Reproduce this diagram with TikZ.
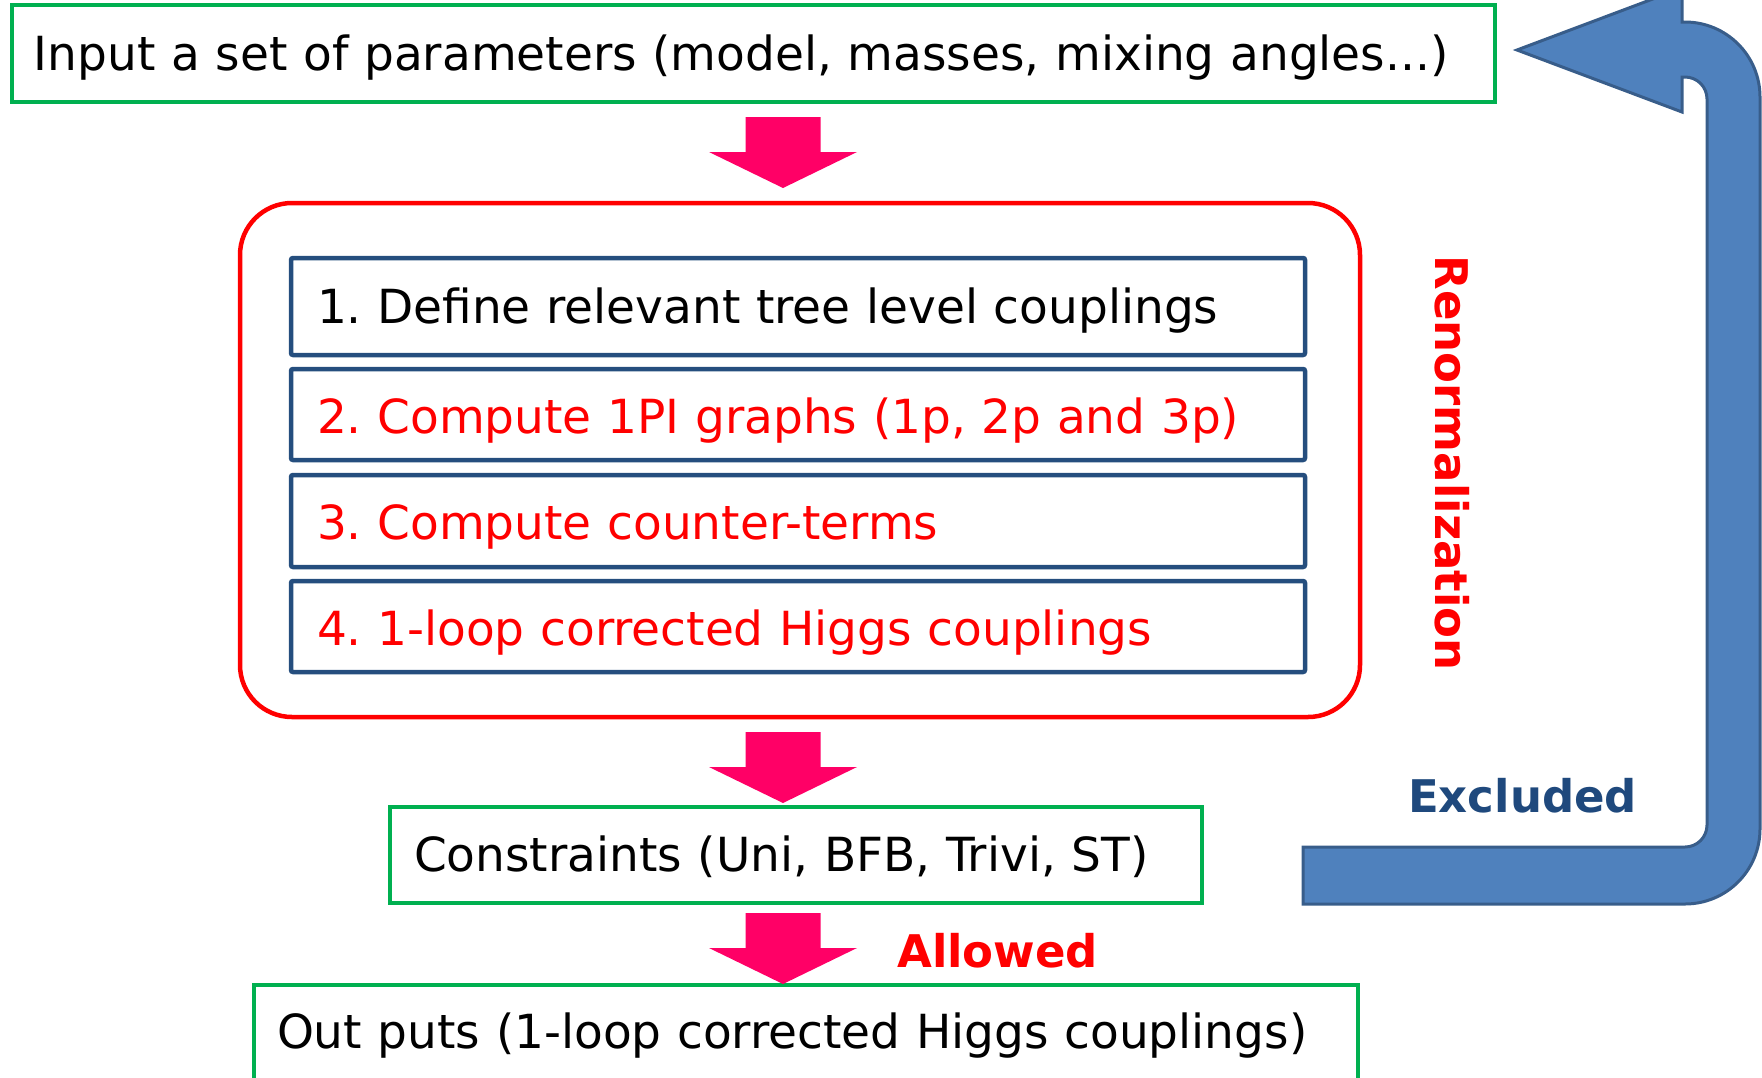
\documentclass[tikz,border=0pt]{standalone}
\usepackage{fontspec}
\setmainfont{DejaVu Sans}
\usetikzlibrary{calc}
\definecolor{boxgreen}{HTML}{00B050}
\definecolor{boxred}{HTML}{FF0000}
\definecolor{stepblue}{HTML}{254E7E}
\definecolor{arrowpink}{HTML}{FF0066}
\definecolor{loopfill}{HTML}{4F81BD}
\definecolor{loopedge}{HTML}{385D8A}
\definecolor{labelblue}{HTML}{1F497D}
\frenchspacing
% block arrow pointing down, from a top coordinate to a tip coordinate
\newcommand\pinkarrow[2]{%
  \fill[arrowpink] ($(#1)+(-37.5,0)$) -- ($(#1)+(37.5,0)$) -- ($(#2)+(37.5,-36)$)
    -- ($(#2)+(74,-36)$) -- (#2) -- ($(#2)+(-74,-36)$) -- ($(#2)+(-37.5,-36)$) -- cycle;}
\begin{document}
\begin{tikzpicture}[x=1pt,y=-1pt,
  every node/.style={font=\fontsize{47}{57}\selectfont},
  greenbox/.style={draw=boxgreen,line width=3.5pt,inner ysep=0pt,align=left,text depth=10pt},
  stepbox/.style={draw=stepblue,line width=4.5pt,rounded corners=2pt,minimum width=1014pt,
    text width=962pt,inner xsep=26pt,inner ysep=0pt,align=left,text depth=10pt},
  boldlabel/.style={font=\fontsize{45}{55}\selectfont\bfseries}]
\useasboundingbox (0,0) rectangle (1762,1077);
\clip (0,0) rectangle (1762,1077);

% input box
\node[greenbox,minimum width=1483pt,minimum height=97pt,text width=1439pt,inner xsep=22pt,
  text height=43pt] (input) at (753.5,53.5)
  {Input a set of parameters (model, masses, mixing angles...)};

% renormalization frame and its four steps
\node[draw=boxred,line width=4.5pt,rounded corners=52pt,minimum width=1120pt,
  minimum height=514pt] (renorm) at (800,460) {};
\node[stepbox,minimum height=97pt,text height=43pt] (s1) at (798,306.5)
  {1. Define relevant tree level couplings};
\node[stepbox,minimum height=91pt,text height=47pt,text=boxred] (s2) at (798,414.5)
  {2. Compute 1PI graphs (1p, 2p and 3p)};
\node[stepbox,minimum height=92pt,text height=46pt,text=boxred] (s3) at (798,521)
  {3. Compute counter-terms};
\node[stepbox,minimum height=91pt,text height=47pt,text=boxred] (s4) at (798,626.5)
  {4. 1-loop corrected Higgs couplings};
\node[boldlabel,text=boxred,rotate=-90,anchor=base,inner sep=0pt] (renlabel) at (1435,463)
  {Renormalization};

% constraints and outputs
\node[greenbox,minimum width=812pt,minimum height=96pt,text width=764pt,inner xsep=24pt,
  text height=42pt] (cons) at (796,855)
  {Constraints (Uni, BFB, Trivi, ST)};
\node[greenbox,minimum width=1104pt,minimum height=115pt,text width=1058pt,inner xsep=23pt,
  text height=21pt] (out) at (806,1042.5)
  {Out puts (1-loop corrected Higgs couplings)};

% downward flow arrows
\coordinate (a1top) at (783,117);  \coordinate (a1tip) at (783,188);
\coordinate (a2top) at (783,732);  \coordinate (a2tip) at (783,803);
\coordinate (a3top) at (783,913);  \coordinate (a3tip) at (783,984);
\pinkarrow{a1top}{a1tip}
\pinkarrow{a2top}{a2tip}
\pinkarrow{a3top}{a3tip}
\node[boldlabel,text=boxred,anchor=base west,inner sep=0pt] (allowed) at (897,967) {Allowed};

% return loop for excluded points
\filldraw[fill=loopfill,draw=loopedge,line width=3pt]
  (1303,847) -- (1685,847) arc[start angle=90,end angle=0,radius=22] -- (1707,99)
  arc[start angle=0,end angle=-90,radius=22] -- (1682,77) -- (1682,112) -- (1517,50)
  -- (1682,-12) -- (1682,22) -- (1685,22) arc[start angle=-90,end angle=0,radius=75]
  -- (1760,829) arc[start angle=0,end angle=90,radius=75] -- (1303,904) -- cycle;
\node[boldlabel,text=labelblue,anchor=base west,inner sep=0pt] (excl) at (1408,812) {Excluded};
\end{tikzpicture}
\end{document}
